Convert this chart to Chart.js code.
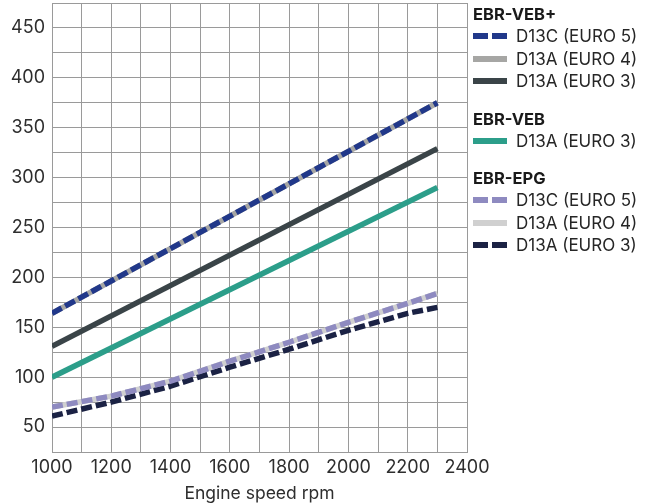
<!DOCTYPE html>
<html>
<head>
<meta charset="utf-8">
<script src="https://cdn.jsdelivr.net/npm/chart.js@4/dist/chart.umd.min.js"></script>
<style>
  html, body { margin: 0; padding: 0; background: #fff; }
  #wrap { position: relative; width: 656px; height: 504px; }
  #chart { position: absolute; left: 0; top: 0; }
  #legend { position: absolute; left: 473px; top: 3px; font-family: Inter, "Noto Sans", sans-serif; color: #1a1a1a; }
  .grp-title { font-weight: 700; font-size: 16.5px; height: 22px; line-height: 22px; }
  .grp { margin-bottom: 15px; }
  .row { display: flex; align-items: center; height: 22.5px; font-size: 17px; color: #262626; }
  .sw { width: 34px; height: 6px; margin-right: 9px; flex: none; }
</style>
</head>
<body>
<div id="wrap">
  <canvas id="chart" width="656" height="504"></canvas>
  <div id="legend"></div>
</div>
<script>
// x values (engine speed, rpm)
const rpmStraight = [1000, 2300];
const rpmEpg = [1000, 1200, 1400, 1600, 1800, 2000, 2200, 2300];

// EBR-VEB+
const vebPlusEuro5 = [164, 375];
const vebPlusEuro4 = [164, 375];
const vebPlusEuro3 = [131, 329];
// EBR-VEB
const vebEuro3 = [100, 290];
// EBR-EPG
const epgEuro5 = [70, 81, 96, 116, 135, 155, 174, 184];
const epgEuro4 = [70, 81, 96, 116, 135, 155, 174, 184];
const epgEuro3 = [61, 75, 91, 110, 128, 147, 164, 170];

const xTicks = [1000, 1200, 1400, 1600, 1800, 2000, 2200, 2400];
const yTicks = [50, 100, 150, 200, 250, 300, 350, 400, 450];

const groups = [
  { title: 'EBR-VEB+', items: [
    { label: 'D13C (EURO 5)', xs: rpmStraight, ys: vebPlusEuro5, color: '#21388a', dashed: true },
    { label: 'D13A (EURO 4)', xs: rpmStraight, ys: vebPlusEuro4, color: '#a6a6a4', dashed: false },
    { label: 'D13A (EURO 3)', xs: rpmStraight, ys: vebPlusEuro3, color: '#3a4448', dashed: false },
  ]},
  { title: 'EBR-VEB', items: [
    { label: 'D13A (EURO 3)', xs: rpmStraight, ys: vebEuro3, color: '#2c9e8a', dashed: false },
  ]},
  { title: 'EBR-EPG', items: [
    { label: 'D13C (EURO 5)', xs: rpmEpg, ys: epgEuro5, color: '#8e8ac0', dashed: true },
    { label: 'D13A (EURO 4)', xs: rpmEpg, ys: epgEuro4, color: '#d0d0d0', dashed: false },
    { label: 'D13A (EURO 3)', xs: rpmEpg, ys: epgEuro3, color: '#1b2244', dashed: true },
  ]},
];

const FONT = 'Inter, "Noto Sans", sans-serif';
const gridColor = '#9a9a9a';

const datasets = [];
groups.forEach(g => g.items.forEach(it => {
  datasets.push({
    label: g.title + ' ' + it.label,
    data: it.xs.map((x, i) => ({ x, y: it.ys[i] })),
    borderColor: it.color,
    borderWidth: 5.5,
    borderDash: it.dashed ? [11, 4] : [],
    borderCapStyle: 'butt',
    pointRadius: 0,
    fill: false,
    tension: 0,
    order: it.dashed ? 0 : 1,
  });
}));

// HTML legend built from groups
const legendEl = document.getElementById('legend');
legendEl.innerHTML = groups.map(g => `
  <div class="grp">
    <div class="grp-title">${g.title}</div>
    ${g.items.map(it => {
      const bg = it.dashed
        ? `repeating-linear-gradient(90deg, ${it.color} 0 15px, #fff 15px 19px)`
        : it.color;
      return `<div class="row"><span class="sw" style="background:${bg}"></span>${it.label}</div>`;
    }).join('')}
  </div>`).join('');

new Chart(document.getElementById('chart'), {
  type: 'line',
  data: { datasets },
  options: {
    responsive: false,
    animation: false,
    layout: { padding: { left: 0, right: 189, top: 3, bottom: 0 } },
    plugins: { legend: { display: false }, tooltip: { enabled: false } },
    scales: {
      x: {
        type: 'linear',
        min: 1000,
        max: 2400,
        grid: { color: gridColor, lineWidth: 1, drawTicks: false },
        border: { color: gridColor },
        ticks: {
          stepSize: 100,
          padding: 5,
          color: '#2e2e2e',
          font: { family: FONT, size: 18 },
          maxRotation: 0,
          autoSkip: false,
          callback: v => xTicks.includes(v) ? String(v) : '',
        },
        title: {
          display: true,
          text: 'Engine speed rpm',
          color: '#2e2e2e',
          font: { family: FONT, size: 17.5 },
          padding: { top: 0, bottom: 0 },
        },
        afterFit: s => { s.height = 52; },
      },
      y: {
        min: 25,
        max: 475,
        grid: { color: gridColor, lineWidth: 1, drawTicks: false },
        border: { color: gridColor },
        ticks: {
          stepSize: 25,
          padding: 7,
          color: '#2e2e2e',
          font: { family: FONT, size: 18 },
          autoSkip: false,
          callback: v => yTicks.includes(v) ? String(v) : '',
        },
        afterFit: s => { s.width = 52; s.paddingTop = 0; s.paddingBottom = 0; },
      },
    },
  },
});
</script>
</body>
</html>
